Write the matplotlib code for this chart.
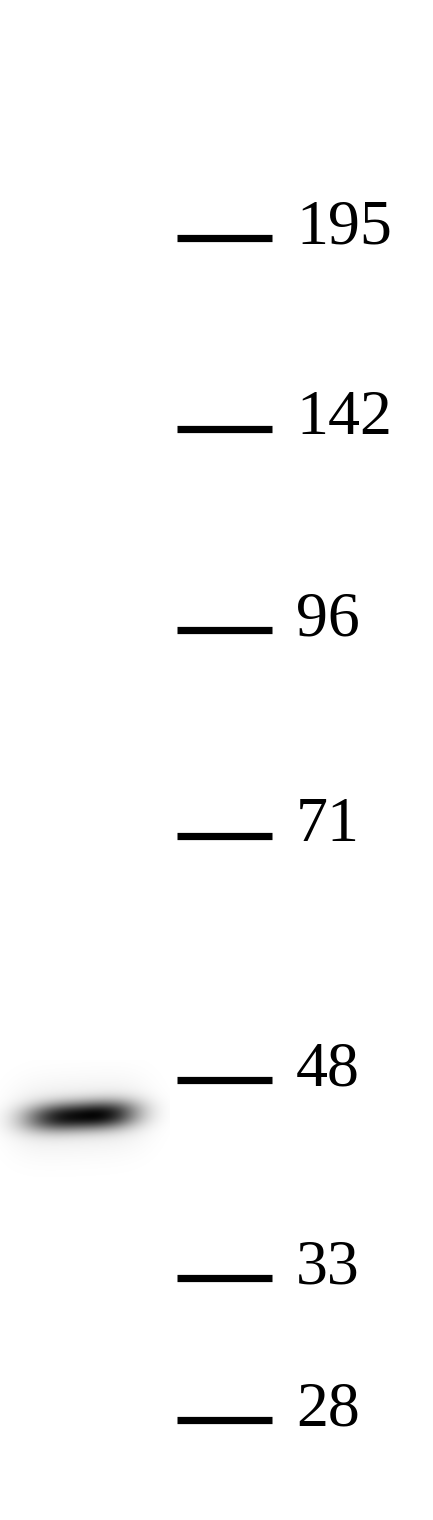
import numpy as np
import matplotlib
matplotlib.use("Agg")
import matplotlib.pyplot as plt

# Marker ladder (kDa) and their migration positions (pixel rows)
marker_labels = ["195", "142", "96", "71", "48", "33", "28"]
marker_y = [238, 429, 630, 836, 1080, 1278, 1420]

# Detected band in the sample lane
band_center_x = 80
band_center_y = 1116
band_half_width = 55
band_half_height = 14
band_peak = 0.95

W, H = 433, 1520
fig = plt.figure(figsize=(W / 100, H / 100), dpi=100)
ax = fig.add_axes([0, 0, 1, 1])
ax.set_xlim(0, W)
ax.set_ylim(H, 0)
ax.axis("off")
fig.patch.set_facecolor("white")

# band image (blurred blob)
x0, x1, y0, y1 = 0, 170, 1060, 1200
xs = np.linspace(x0, x1, 340)
ys = np.linspace(y0, y1, 280)
X, Y = np.meshgrid(xs, ys)
tilt = -0.05 * (X - band_center_x)
u = (X - band_center_x) / band_half_width
v = (Y - band_center_y - tilt) / band_half_height
core = np.exp(-(np.abs(u) ** 3) - np.abs(v) ** 2.2)
halo = 0.10 * np.exp(-(np.abs(u / 1.25) ** 4) - (v / 2.4) ** 2)
grad = 0.78 + 0.22 * np.clip((X - 20) / 100, 0, 1)
dens = np.clip(band_peak * core * grad + halo, 0, 1)
rgba = np.zeros(dens.shape + (4,))
rgba[..., 3] = dens
ax.imshow(rgba, extent=(x0, x1, y1, y0), interpolation="bilinear", zorder=1)

for lab, y in zip(marker_labels, marker_y):
    ax.plot([177, 272], [y, y], color="black", lw=5.2, solid_capstyle="butt", zorder=2)
    ax.text(296, y + 5, lab, fontsize=46, family="Liberation Serif",
            ha="left", va="baseline", color="black")

fig.savefig("out.png", dpi=100, facecolor="white")
